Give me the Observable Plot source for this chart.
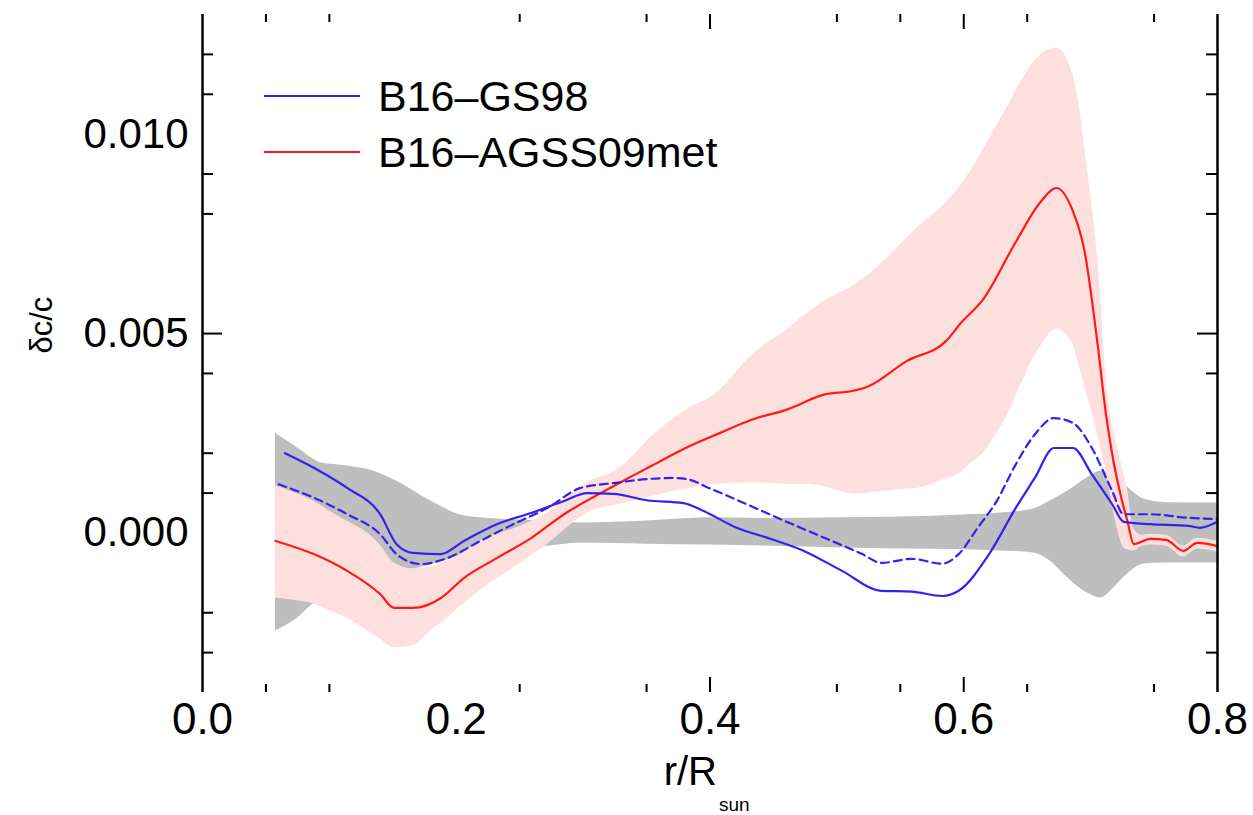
<!DOCTYPE html>
<html><head><meta charset="utf-8">
<script src="https://cdn.jsdelivr.net/npm/d3@7"></script>
<script src="https://cdn.jsdelivr.net/npm/@observablehq/plot@0.6"></script>
<style>
html,body{margin:0;padding:0;background:#fff;}
#wrap{position:relative;width:1253px;height:815px;font-family:"Liberation Sans",Arial,sans-serif;}
#legend{position:absolute;left:264px;top:68px;}
.row{display:flex;align-items:center;height:56px;}
.row span{font-size:43px;margin-left:18px;color:#000;line-height:1;}
</style></head><body><div id="wrap"></div>
<script>
// ---- data (values of δc/c) ----
const seriesNames = ["B16–GS98", "B16–AGSS09met"];
const seriesColors = ["#3322ee", "#ff1a1a"];

const redX = [0.0575,0.0877,0.114,0.140,0.151,0.166,0.188,0.206,0.232,0.259,0.285,0.311,0.337,0.356,0.380,0.408,0.434,0.461,0.491,0.512,0.525,0.555,0.586,0.597,0.616,0.640,0.661,0.673,0.686,0.695,0.706,0.712,0.718,0.724,0.729,0.734,0.747,0.760,0.773,0.784,0.800];
const redY = [-0.00020,-0.00053,-0.00095,-0.00153,-0.00188,-0.00188,-0.00163,-0.00113,-0.00063,-0.00013,0.00047,0.00095,0.00140,0.00172,0.00212,0.00251,0.00285,0.00310,0.00348,0.00356,0.00368,0.00431,0.00481,0.00524,0.00589,0.00724,0.00832,0.00865,0.00807,0.00710,0.00460,0.00300,0.00180,0.00090,0.00030,-0.00028,-0.00015,-0.00018,-0.00045,-0.00025,-0.00033];

const blueX = [0.065,0.088,0.114,0.140,0.153,0.166,0.188,0.206,0.232,0.259,0.285,0.303,0.324,0.350,0.379,0.395,0.421,0.448,0.474,0.504,0.535,0.559,0.583,0.596,0.620,0.641,0.656,0.671,0.686,0.701,0.717,0.726,0.747,0.777,0.786,0.800];
const blueY = [0.00200,0.00163,0.00113,0.00047,-0.00028,-0.00050,-0.00053,-0.00020,0.00022,0.00050,0.00080,0.00100,0.00098,0.00082,0.00075,0.00055,0.00013,-0.00015,-0.00045,-0.00095,-0.00145,-0.00147,-0.00158,-0.00145,-0.00053,0.00063,0.00138,0.00213,0.00213,0.00147,0.00072,0.00028,0.00022,0.00018,0.00013,0.00028];

const blueDashX = [0.060,0.088,0.114,0.140,0.153,0.172,0.193,0.219,0.245,0.272,0.298,0.324,0.350,0.371,0.382,0.399,0.429,0.459,0.490,0.520,0.535,0.559,0.583,0.596,0.611,0.626,0.641,0.656,0.671,0.686,0.701,0.717,0.726,0.747,0.777,0.800];
const blueDashY = [0.00122,0.00088,0.00047,-0.00003,-0.00053,-0.00078,-0.00063,-0.00020,0.00022,0.00063,0.00113,0.00125,0.00135,0.00138,0.00135,0.00113,0.00072,0.00030,-0.00012,-0.00053,-0.00075,-0.00065,-0.00077,-0.00053,0.00013,0.00080,0.00172,0.00247,0.00288,0.00276,0.00213,0.00105,0.00047,0.00047,0.00038,0.00035];

const pinkX  = [0.0575,0.075,0.0875,0.100,0.114,0.130,0.140,0.151,0.166,0.180,0.193,0.205,0.219,0.232,0.245,0.260,0.272,0.290,0.303,0.329,0.356,0.373,0.382,0.404,0.434,0.461,0.476,0.487,0.515,0.540,0.555,0.565,0.585,0.596,0.604,0.617,0.628,0.632,0.644,0.655,0.661,0.673,0.686,0.690,0.697,0.706,0.713,0.720,0.726,0.729,0.734,0.740,0.747,0.760,0.773,0.784,0.800];
const pinkLo = [-0.00163,-0.00170,-0.00178,-0.00195,-0.00213,-0.00245,-0.00265,-0.00288,-0.00283,-0.00245,-0.00213,-0.00180,-0.00145,-0.00115,-0.00088,-0.00055,-0.00028,0.00020,0.00050,0.00072,0.00093,0.00105,0.00110,0.00122,0.00126,0.00122,0.00122,0.00118,0.00098,0.00105,0.00110,0.00113,0.00135,0.00148,0.00170,0.00206,0.00260,0.00281,0.00364,0.00439,0.00470,0.00511,0.00474,0.00430,0.00350,0.00240,0.00140,0.00025,-0.00037,-0.00042,-0.00045,-0.00033,-0.00030,-0.00033,-0.00060,-0.00040,-0.00048];
const pinkHi = [0.00118,0.00098,0.00080,0.00055,0.00030,0.00000,-0.00030,-0.00075,-0.00090,-0.00085,-0.00070,-0.00050,-0.00020,-0.00002,0.00010,0.00030,0.00050,0.00095,0.00125,0.00163,0.00247,0.00290,0.00310,0.00348,0.00449,0.00510,0.00549,0.00575,0.00624,0.00690,0.00739,0.00770,0.00825,0.00865,0.00900,0.00970,0.01033,0.01055,0.01125,0.01180,0.01200,0.01216,0.01150,0.01090,0.00925,0.00674,0.00360,0.00230,0.00150,0.00110,0.00010,-0.00005,-0.00003,-0.00006,-0.00033,-0.00013,-0.00021];

const grayX  = [0.0575,0.075,0.0875,0.093,0.114,0.135,0.153,0.180,0.206,0.232,0.272,0.300,0.350,0.400,0.450,0.500,0.550,0.600,0.629,0.655,0.668,0.682,0.697,0.708,0.718,0.729,0.742,0.760,0.800];
const grayLo = [-0.00246,-0.00213,-0.00178,-0.00170,-0.00140,-0.00110,-0.00100,-0.00080,-0.00055,-0.00040,-0.00033,-0.00025,-0.00028,-0.00030,-0.00033,-0.00037,-0.00040,-0.00042,-0.00045,-0.00050,-0.00070,-0.00113,-0.00150,-0.00163,-0.00138,-0.00103,-0.00078,-0.00075,-0.00075];
const grayHi = [0.00250,0.00213,0.00185,0.00176,0.00168,0.00155,0.00130,0.00080,0.00043,0.00035,0.00030,0.00025,0.00030,0.00038,0.00036,0.00038,0.00040,0.00045,0.00050,0.00060,0.00080,0.00105,0.00138,0.00155,0.00145,0.00115,0.00085,0.00076,0.00075];

// axes
const xDomain = [0, 0.8];
const yDomain = [-0.004, 0.013];
const xLabelVals = [0.0, 0.2, 0.4, 0.6, 0.8];
const xLabelText = ["0.0", "0.2", "0.4", "0.6", "0.8"];
const yLabelVals = [0.010, 0.005, 0.000];
const yLabelText = ["0.010", "0.005", "0.000"];
const xMajorTicks = [0.4, 0.6];
const xMinorTicks = [0.05, 0.1, 0.25, 0.35, 0.5, 0.55, 0.65, 0.75];
const yMajorTicks = [0.005];
const yMinorTicks = [0.012, 0.011, 0.009, 0.008, 0.004, 0.002, 0.001, -0.002, -0.003];

// ---- layout ----
const W = 1253, H = 815, mL = 202, mR = 36, mT = 14, mB = 123;
const fw = W - mL - mR, fh = H - mT - mB;
const font = "Liberation Sans, Arial, Helvetica, sans-serif";

const pts = (xs, ys) => xs.map((x, i) => ({x, y: ys[i]}));
const band = (xs, lo, hi) => xs.map((x, i) => ({x, lo: lo[i], hi: hi[i]}));
const curve = "monotone-x";

const chart = Plot.plot({
  width: W, height: H,
  marginLeft: mL, marginRight: mR, marginTop: mT, marginBottom: mB,
  x: {domain: xDomain, axis: null},
  y: {domain: yDomain, axis: null},
  style: {fontFamily: font, background: "white", color: "black"},
  marks: [
    Plot.areaY(band(grayX, grayLo, grayHi), {x: "x", y1: "lo", y2: "hi", fill: "#bebebe", curve}),
    Plot.areaY(band(pinkX, pinkLo, pinkHi), {x: "x", y1: "lo", y2: "hi", fill: "#fde0de", curve}),
    Plot.line(pts(redX, redY), {x: "x", y: "y", stroke: seriesColors[1], strokeWidth: 2.2, curve}),
    Plot.line(pts(blueDashX, blueDashY), {x: "x", y: "y", stroke: seriesColors[0], strokeWidth: 2.2, strokeDasharray: "8,5", curve}),
    Plot.line(pts(blueX, blueY), {x: "x", y: "y", stroke: seriesColors[0], strokeWidth: 2.2, curve}),
    // axis lines (left / right)
    Plot.ruleX(xDomain, {stroke: "black", strokeWidth: 2.5}),
    // y ticks, both sides, inward
    Plot.tickY(yMinorTicks, {y: d => d, insetRight: fw - 11, stroke: "black", strokeWidth: 2}),
    Plot.tickY(yMinorTicks, {y: d => d, insetLeft: fw - 11, stroke: "black", strokeWidth: 2}),
    Plot.tickY(yMajorTicks, {y: d => d, insetRight: fw - 20, stroke: "black", strokeWidth: 2}),
    Plot.tickY(yMajorTicks, {y: d => d, insetLeft: fw - 20, stroke: "black", strokeWidth: 2}),
    // x ticks, top and bottom, inward
    Plot.tickX(xMinorTicks, {x: d => d, insetTop: fh - 8, stroke: "black", strokeWidth: 2}),
    Plot.tickX(xMinorTicks, {x: d => d, insetBottom: fh - 8, stroke: "black", strokeWidth: 2}),
    Plot.tickX(xMajorTicks, {x: d => d, insetTop: fh - 15, stroke: "black", strokeWidth: 2}),
    Plot.tickX(xMajorTicks, {x: d => d, insetBottom: fh - 15, stroke: "black", strokeWidth: 2}),
    // tick labels
    Plot.text(yLabelVals.map((v, i) => ({v, t: yLabelText[i]})), {y: "v", text: "t", frameAnchor: "left", textAnchor: "end", dx: -14, fontSize: 42, fill: "black"}),
    Plot.text(xLabelVals.map((v, i) => ({v, t: xLabelText[i]})), {x: "v", text: "t", frameAnchor: "bottom", lineAnchor: "middle", dy: 27, fontSize: 44, fill: "black"}),
    // axis titles
    Plot.text(["δc/c"], {frameAnchor: "left", rotate: -90, dx: -160, fontSize: 31, fill: "black"}),
    Plot.text(["r/R"], {frameAnchor: "bottom", textAnchor: "end", lineAnchor: "middle", dx: 7, dy: 80, fontSize: 40, fill: "black"}),
    Plot.text(["sun"], {frameAnchor: "bottom", textAnchor: "start", lineAnchor: "middle", dx: 9, dy: 112, fontSize: 19, fill: "black"})
  ]
});

const wrap = document.getElementById("wrap");
wrap.appendChild(chart);

// legend (inside the plot frame, top-left)
const legend = document.createElement("div");
legend.id = "legend";
seriesNames.forEach((name, i) => {
  const row = document.createElement("div");
  row.className = "row";
  row.innerHTML = `<svg width="96" height="6"><line x1="0" x2="96" y1="3" y2="3" stroke="${seriesColors[i]}" stroke-width="2.2"/></svg><span>${name}</span>`;
  legend.appendChild(row);
});
wrap.appendChild(legend);
</script>
</body></html>
